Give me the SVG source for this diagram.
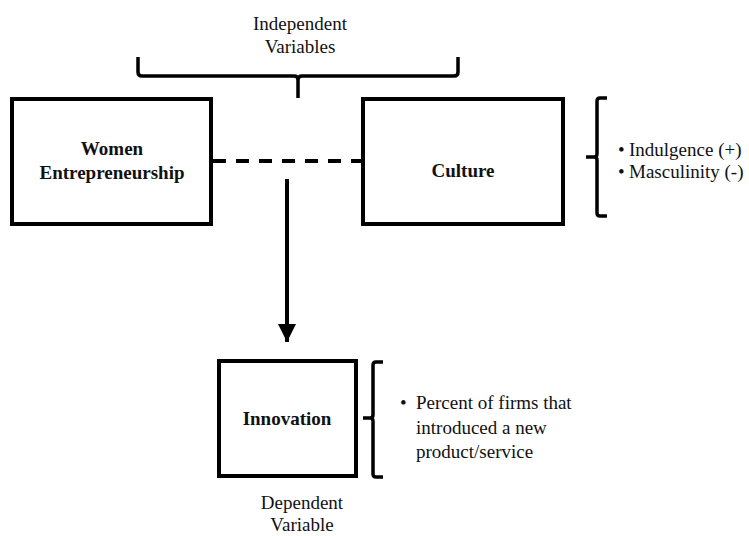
<svg xmlns="http://www.w3.org/2000/svg" width="749" height="536" viewBox="0 0 749 536">
<style>
.box{fill:#fff;stroke:#000;stroke-width:4}
.br{fill:none;stroke:#000;stroke-width:3.5;stroke-linejoin:miter}
.t{font-family:"Liberation Serif","DejaVu Serif",serif;font-size:19px;fill:#111}
.b{font-weight:bold;text-anchor:middle}
.c{text-anchor:middle}
</style>
<defs>
<marker id="ah" viewBox="0 0 10 10" refX="10" refY="5" markerWidth="4.5" markerHeight="4.5" markerUnits="strokeWidth" orient="auto">
<path d="M0,0 L10,5 L0,10 Z" fill="#000"/>
</marker>
</defs>
<rect width="749" height="536" fill="#fff"/>
<g id="label-independent">
<text class="t c" x="300" y="30">Independent</text>
<text class="t c" x="300" y="53">Variables</text>
<path class="br" d="M138,57 V72 Q138,76 142,76 H294 Q298,76 298,80 V98 M298,80 Q298,76 302,76 H454 Q458,76 458,72 V57"/>
</g>
<g id="connectors">
<line x1="213" y1="161" x2="361" y2="161" stroke="#000" stroke-width="4" stroke-dasharray="13,10"/>
<line x1="287" y1="179" x2="287" y2="342" stroke="#000" stroke-width="4" marker-end="url(#ah)"/>
</g>
<g id="women">
<rect class="box" x="12" y="99" width="199" height="125"/>
<text class="t b" x="112" y="155">Women</text>
<text class="t b" x="112" y="179">Entrepreneurship</text>
</g>
<g id="culture">
<rect class="box" x="363" y="99" width="200" height="125"/>
<text class="t b" x="463" y="177">Culture</text>
</g>
<g id="culture-measures">
<path class="br" d="M607,98 H600 Q597,98 597,101 V154 Q597,157 594,157 H586 M594,157 Q597,157 597,160 V213 Q597,216 600,216 H607"/>
<text class="t" x="618" y="156">•</text>
<text class="t" x="629" y="156">Indulgence (+)</text>
<text class="t" x="618" y="178">•</text>
<text class="t" x="629" y="178">Masculinity (-)</text>
</g>
<g id="innovation">
<rect class="box" x="219" y="361" width="137" height="115"/>
<text class="t b" x="287" y="425">Innovation</text>
</g>
<g id="innovation-measures">
<path class="br" d="M383,362 H376 Q373,362 373,365 V415 Q373,418 370,418 H363 M370,418 Q373,418 373,421 V474 Q373,477 376,477 H383"/>
<text class="t" x="400" y="409">•</text>
<text class="t" x="416" y="409">Percent of firms that</text>
<text class="t" x="416" y="434">introduced a new</text>
<text class="t" x="416" y="458">product/service</text>
</g>
<g id="label-dependent">
<text class="t c" x="302" y="509">Dependent</text>
<text class="t c" x="302" y="531">Variable</text>
</g>
</svg>
